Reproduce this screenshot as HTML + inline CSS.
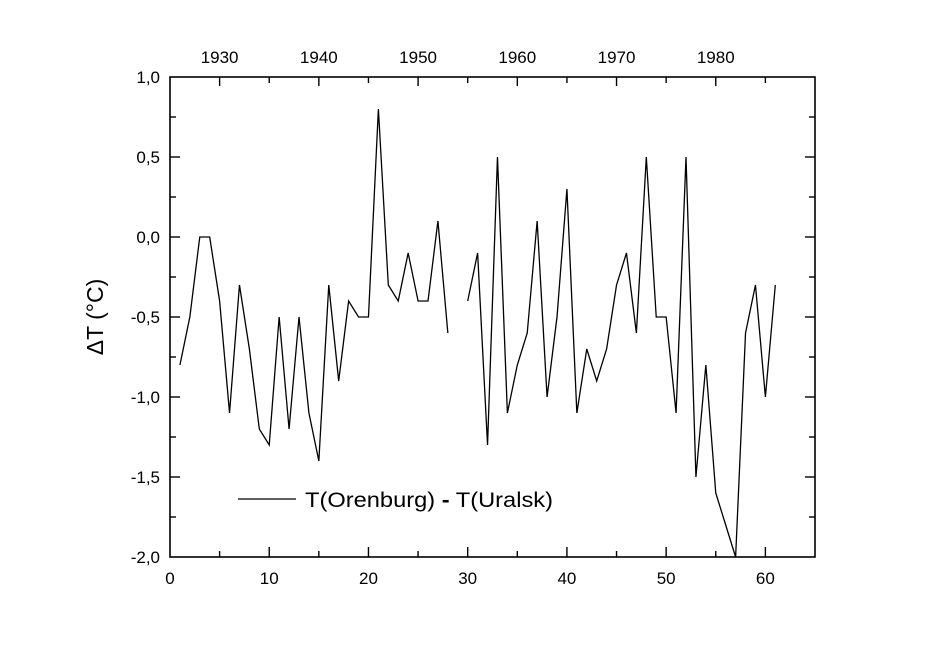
<!DOCTYPE html>
<html><head><meta charset="utf-8"><style>
body{margin:0;background:#fff;}
svg text{font-family:"Liberation Sans",Arial,sans-serif;fill:#000;}
</style></head><body>
<svg id="chart" width="945" height="667" xmlns="http://www.w3.org/2000/svg">
<rect x="0" y="0" width="945" height="667" fill="#fff"/>
<g id="axes"></g>
<g id="series"></g>
<g>
<line x1="238" y1="499" x2="296" y2="499" stroke="#000" stroke-width="1.2"/>
<text x="305" y="507" font-size="21.5" textLength="248" lengthAdjust="spacingAndGlyphs">T(Orenburg) <tspan font-weight="bold">-</tspan> T(Uralsk)</text>
</g>
<text transform="translate(103,317) rotate(-90)" text-anchor="middle" font-size="23">ΔT (°C)</text>
</svg>
<script>
const xSeg1 = [1,2,3,4,5,6,7,8,9,10,11,12,13,14,15,16,17,18,19,20,21,22,23,24,25,26,27,28];
const ySeg1 = [-0.8,-0.5,0,0,-0.4,-1.1,-0.3,-0.7,-1.2,-1.3,-0.5,-1.2,-0.5,-1.1,-1.4,-0.3,-0.9,-0.4,-0.5,-0.5,0.8,-0.3,-0.4,-0.1,-0.4,-0.4,0.1,-0.6];
const xSeg2 = [30,31,32,33,34,35,36,37,38,39,40,41,42,43,44,45,46,47,48,49,50,51,52,53,54,55,56,57,58,59,60,61];
const ySeg2 = [-0.4,-0.1,-1.3,0.5,-1.1,-0.8,-0.6,0.1,-1.0,-0.5,0.3,-1.1,-0.7,-0.9,-0.7,-0.3,-0.1,-0.6,0.5,-0.5,-0.5,-1.1,0.5,-1.5,-0.8,-1.6,-1.8,-2.0,-0.6,-0.3,-1.0,-0.3];
const xTickLabels = [0,10,20,30,40,50,60];
const yTickLabels = ["1,0","0,5","0,0","-0,5","-1,0","-1,5","-2,0"];
const yTickValues = [1,0.5,0,-0.5,-1,-1.5,-2];
const topYearLabels = [1930,1940,1950,1960,1970,1980];
const yearOffset = 1925;

const L=170,R=815,T=77,B=557;
const xMin=0,xMax=65,yMin=-2,yMax=1;
const sx=v=>L+(v-xMin)/(xMax-xMin)*(R-L);
const sy=v=>B-(v-yMin)/(yMax-yMin)*(B-T);
const NS="http://www.w3.org/2000/svg";
const axes=document.getElementById('axes');
const series=document.getElementById('series');
function mk(tag,attrs,parent){const e=document.createElementNS(NS,tag);for(const k in attrs)e.setAttribute(k,attrs[k]);parent.appendChild(e);return e;}

const frame=mk('rect',{x:L,y:T,width:R-L,height:B-T,fill:'none',stroke:'#000','stroke-width':1.6},axes);



for(let v=5;v<65;v+=5){
  const x=sx(v);
  const bl=(v%10===0)?10:6;
  const t1=mk('line',{x1:x,y1:B,x2:x,y2:B-bl,stroke:'#000','stroke-width':1.4},axes);
  
  
  const tl=(v%10===5)?9:6;
  const t2=mk('line',{x1:x,y1:T,x2:x,y2:T+tl,stroke:'#000','stroke-width':1.4},axes);
  
  
}
xTickLabels.forEach(v=>{
  const t=mk('text',{x:sx(v),y:584,'text-anchor':'middle','font-size':17},axes);
  t.textContent=v;
  
  
});
topYearLabels.forEach(y=>{
  const t=mk('text',{x:sx(y-yearOffset),y:63,'text-anchor':'middle','font-size':17},axes);
  t.textContent=y;
  
  
});
for(let i=1;i<12;i++){
  const v=-2+i*0.25;
  const y=sy(v);
  const len=(i%2===0)?10:6;
  const a=mk('line',{x1:L,y1:y,x2:L+len,y2:y,stroke:'#000','stroke-width':1.4},axes);
  
  
  const b=mk('line',{x1:R,y1:y,x2:R-len,y2:y,stroke:'#000','stroke-width':1.4},axes);
  
  
}
yTickValues.forEach((v,i)=>{
  const t=mk('text',{x:160,y:sy(v)+6,'text-anchor':'end','font-size':17},axes);
  t.textContent=yTickLabels[i];
  
  
});
function drawSeg(xs,ys,name){
  const p=mk('polyline',{points:xs.map((x,i)=>sx(x)+','+sy(ys[i])).join(' '),fill:'none',stroke:'#000','stroke-width':1.3,'stroke-linejoin':'miter'},series);
  
  
}
drawSeg(xSeg1,ySeg1,'series-line-segment-1');
drawSeg(xSeg2,ySeg2,'series-line-segment-2');
</script>
</body></html>
